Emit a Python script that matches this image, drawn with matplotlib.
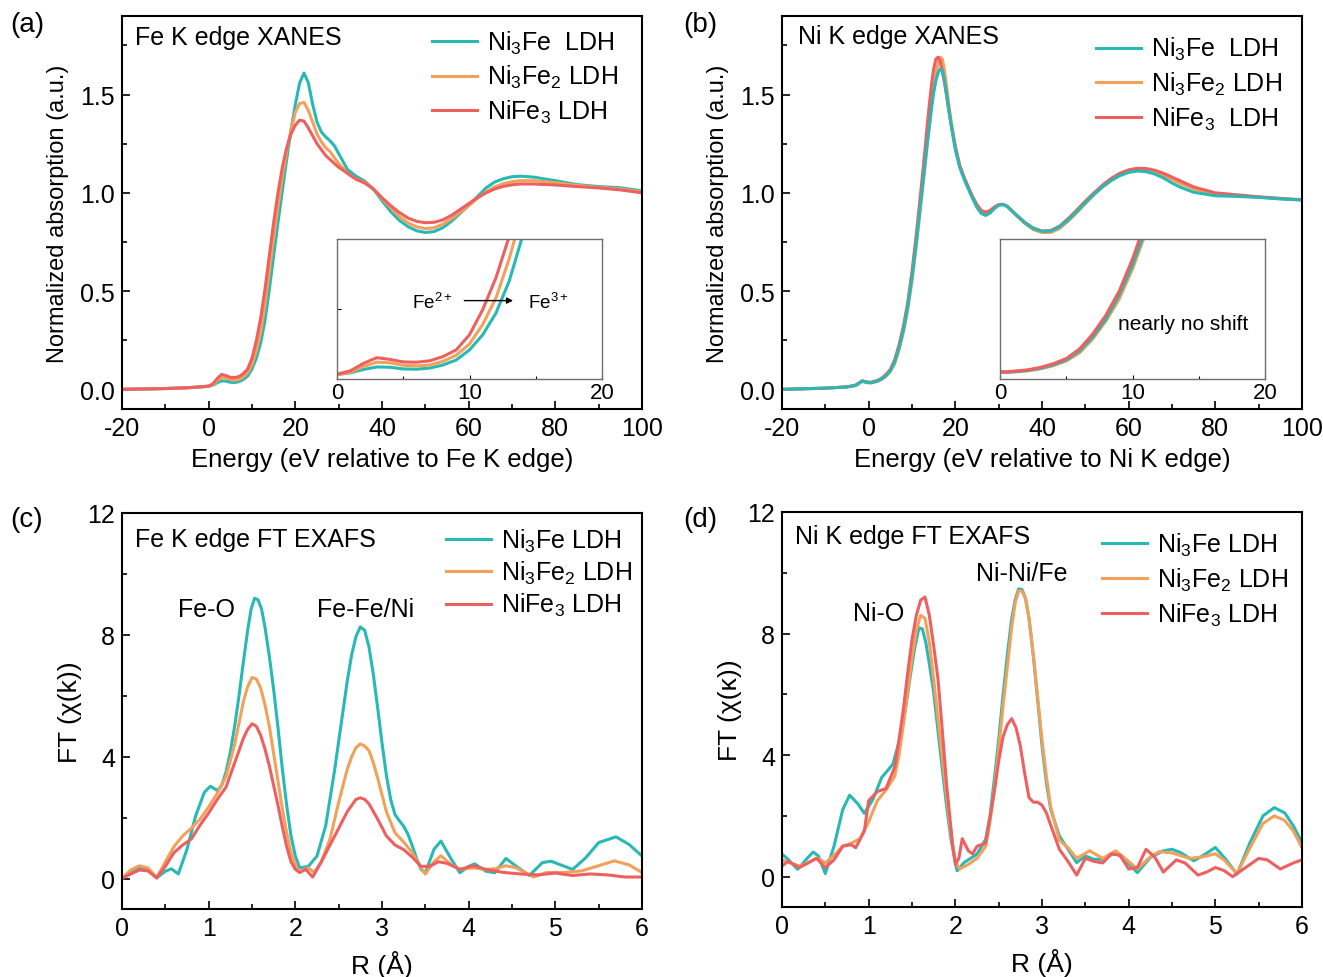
import numpy as np
import matplotlib
matplotlib.use('Agg')
import matplotlib.pyplot as plt
from matplotlib.ticker import MultipleLocator, FormatStrFormatter

plt.rcParams['font.family'] = ['Liberation Sans', 'DejaVu Sans']
plt.rcParams['mathtext.fontset'] = 'custom'
plt.rcParams['mathtext.rm'] = 'Liberation Sans'
plt.rcParams['mathtext.it'] = 'Liberation Sans:italic'
plt.rcParams['mathtext.bf'] = 'Liberation Sans:bold'
plt.rcParams['axes.unicode_minus'] = False

TEAL = '#27B9B5'
ORANGE = '#F2A05A'
RED = '#EE6060'

# ---- Fe K edge XANES (a) ----
e_fe = [-20, -15, -10, -5, -2, 0, 1, 2, 3, 4, 5, 6, 7, 8, 9, 10, 11, 12, 13, 14, 15, 16, 17, 18, 19,
        20, 21, 22, 23, 24, 25, 26, 27, 28, 29, 30, 32, 34, 36, 38, 40, 42, 44, 46, 48, 50, 52, 54,
        56, 58, 60, 62, 64, 66, 68, 70, 72, 75, 80, 85, 90, 95, 100]
fe_ni3fe = [0.000, 0.002, 0.004, 0.008, 0.012, 0.016, 0.022, 0.034, 0.043, 0.042, 0.036, 0.035, 0.039,
            0.050, 0.068, 0.104, 0.158, 0.236, 0.350, 0.51, 0.68, 0.85, 1.01, 1.17, 1.32, 1.45, 1.56,
            1.61, 1.56, 1.45, 1.36, 1.31, 1.285, 1.265, 1.24, 1.20, 1.12, 1.085, 1.06, 1.02, 0.96,
            0.905, 0.86, 0.828, 0.807, 0.798, 0.803, 0.822, 0.855, 0.895, 0.935, 0.98, 1.025, 1.055,
            1.072, 1.082, 1.085, 1.08, 1.062, 1.042, 1.032, 1.026, 1.01]
fe_ni3fe2 = [0.000, 0.002, 0.004, 0.008, 0.012, 0.015, 0.024, 0.045, 0.060, 0.058, 0.049, 0.047, 0.050,
             0.063, 0.085, 0.125, 0.195, 0.29, 0.43, 0.60, 0.77, 0.93, 1.08, 1.21, 1.32, 1.41, 1.455,
             1.46, 1.42, 1.36, 1.30, 1.26, 1.23, 1.21, 1.18, 1.15, 1.10, 1.07, 1.055, 1.02, 0.97,
             0.925, 0.88, 0.847, 0.827, 0.818, 0.822, 0.84, 0.868, 0.90, 0.935, 0.972, 1.005, 1.03,
             1.047, 1.057, 1.062, 1.062, 1.052, 1.038, 1.028, 1.02, 1.005]
fe_nife3 = [0.000, 0.002, 0.004, 0.008, 0.013, 0.017, 0.029, 0.056, 0.076, 0.070, 0.061, 0.060, 0.065,
            0.080, 0.104, 0.158, 0.248, 0.362, 0.51, 0.68, 0.85, 1.00, 1.13, 1.23, 1.30, 1.345, 1.37,
            1.365, 1.33, 1.29, 1.25, 1.22, 1.19, 1.17, 1.15, 1.13, 1.10, 1.07, 1.05, 1.02, 0.975,
            0.935, 0.90, 0.872, 0.855, 0.848, 0.85, 0.862, 0.885, 0.915, 0.945, 0.975, 1.00, 1.02,
            1.033, 1.041, 1.045, 1.045, 1.04, 1.032, 1.025, 1.015, 1.0]

# ---- Ni K edge XANES (b) ----
e_ni = [-20, -15, -10, -5, -3, -1.5, -0.5, 0.5, 2, 3, 4, 5, 6, 7, 8, 9, 10, 11, 12, 13, 13.5, 14,
        14.5, 15, 15.5, 16, 16.5, 17, 17.5, 18, 18.5, 19, 20, 21, 22, 23, 24, 25, 26, 27, 28, 29, 30,
        31, 32, 34, 36, 38, 40, 42, 44, 46, 48, 50, 52, 54, 56, 58, 60, 62, 64, 66, 68, 70, 72, 75,
        80, 85, 90, 95, 100]
ni_ni3fe = [0.0, 0.003, 0.006, 0.012, 0.02, 0.042, 0.036, 0.034,
            0.042, 0.053, 0.07, 0.095, 0.14, 0.21, 0.30, 0.42, 0.57, 0.75, 0.95, 1.15,
            1.25, 1.34, 1.43, 1.51, 1.57, 1.61, 1.63, 1.62, 1.57, 1.50, 1.42, 1.35,
            1.22, 1.13, 1.07, 1.02, 0.97, 0.925, 0.895, 0.885, 0.897, 0.92, 0.937, 0.94, 0.93,
            0.888, 0.848, 0.818, 0.804, 0.806, 0.826, 0.862, 0.904, 0.95, 0.993, 1.032, 1.064,
            1.088, 1.104, 1.111, 1.108, 1.096, 1.076, 1.05, 1.028,
            1.003, 0.985, 0.982, 0.977, 0.969, 0.964]
ni_ni3fe2 = [0.0, 0.003, 0.006, 0.012, 0.019, 0.040, 0.034, 0.032,
             0.040, 0.050, 0.066, 0.09, 0.13, 0.20, 0.29, 0.40, 0.55, 0.73, 0.93, 1.13,
             1.24, 1.34, 1.44, 1.53, 1.60, 1.66, 1.69, 1.68, 1.62, 1.54, 1.45, 1.37,
             1.24, 1.14, 1.08, 1.025, 0.975, 0.93, 0.898, 0.89, 0.9, 0.922, 0.938, 0.94, 0.93,
             0.886, 0.845, 0.813, 0.798, 0.798, 0.818, 0.855, 0.898, 0.945, 0.99, 1.03, 1.063,
             1.09, 1.108, 1.117, 1.116, 1.106, 1.09, 1.068, 1.047,
             1.02, 0.99, 0.985, 0.978, 0.97, 0.963]
ni_nife3 = [0.0, 0.003, 0.006, 0.013, 0.022, 0.044, 0.038, 0.036,
            0.045, 0.057, 0.076, 0.102, 0.15, 0.225, 0.32, 0.44, 0.60, 0.79, 1.00, 1.22,
            1.34, 1.45, 1.55, 1.63, 1.68, 1.69, 1.67, 1.62, 1.56, 1.49, 1.42, 1.35,
            1.23, 1.14, 1.08, 1.03, 0.98, 0.94, 0.91, 0.902, 0.91, 0.928, 0.94, 0.942, 0.932,
            0.89, 0.851, 0.821, 0.806, 0.808, 0.83, 0.868, 0.912, 0.958, 1.0, 1.04, 1.074,
            1.1, 1.117, 1.125, 1.124, 1.115, 1.1, 1.08, 1.06,
            1.03, 1.0, 0.99, 0.98, 0.972, 0.965]

# ---- Fe K edge FT EXAFS (c) ----
r_c1 = [0, 0.1, 0.2, 0.3, 0.4, 0.5, 0.57, 0.65, 0.75, 0.85, 0.95, 1.02, 1.1, 1.15, 1.2, 1.25, 1.3, 1.35,
        1.4, 1.45, 1.49, 1.53, 1.57, 1.61, 1.65, 1.7, 1.75, 1.8, 1.85, 1.9, 1.95, 2.0, 2.05, 2.15, 2.25,
        2.35, 2.45, 2.5, 2.55, 2.6, 2.65, 2.7, 2.75, 2.8, 2.85, 2.9, 2.95, 3.0, 3.05, 3.1, 3.15, 3.2,
        3.25, 3.3, 3.35, 3.4, 3.45, 3.5, 3.6, 3.68, 3.8, 3.9, 4.0, 4.07, 4.2, 4.3, 4.43, 4.55, 4.7,
        4.85, 4.95, 5.05, 5.2, 5.35, 5.5, 5.7, 5.85, 6.0]
ft_c1 = [0.0, 0.24, 0.35, 0.3, 0.02, 0.24, 0.32, 0.15, 0.96, 2.06, 2.83, 3.03, 2.89, 3.05, 3.5, 4.15,
         5.0, 6.0, 7.1, 8.15, 8.85, 9.2, 9.15, 8.85, 8.25, 7.3, 6.2, 4.95, 3.6, 2.4, 1.4, 0.74, 0.35,
         0.4, 0.74, 1.73, 3.5, 4.5, 5.5, 6.5, 7.35, 7.95, 8.26, 8.15, 7.6, 6.7, 5.6, 4.45, 3.4, 2.6,
         2.1, 1.9, 1.72, 1.45, 1.07, 0.65, 0.3, 0.19, 0.96, 1.23, 0.63, 0.19, 0.4, 0.48, 0.24, 0.19,
         0.66, 0.4, 0.1, 0.52, 0.57, 0.46, 0.3, 0.68, 1.18, 1.37, 1.12, 0.74]
r_c2 = [0, 0.1, 0.2, 0.3, 0.4, 0.5, 0.6, 0.7, 0.8, 0.9, 1.0, 1.1, 1.2, 1.3, 1.35, 1.4, 1.45, 1.5, 1.55,
        1.6, 1.65, 1.7, 1.75, 1.8, 1.85, 1.9, 1.95, 2.0, 2.05, 2.1, 2.15, 2.22, 2.3, 2.4, 2.5, 2.6,
        2.65, 2.7, 2.75, 2.8, 2.85, 2.9, 2.95, 3.05, 3.15, 3.25, 3.35, 3.45, 3.5, 3.6, 3.68, 3.8, 3.9,
        4.05, 4.2, 4.3, 4.43, 4.55, 4.75, 4.9, 5.1, 5.3, 5.5, 5.68, 5.85, 6.0]
ft_c2 = [0.0, 0.28, 0.42, 0.35, 0.03, 0.55, 1.05, 1.4, 1.65, 1.95, 2.35, 2.8, 3.35, 4.4, 5.1, 5.8, 6.3,
         6.6, 6.55, 6.25, 5.7, 5.0, 4.1, 3.2, 2.3, 1.5, 0.85, 0.45, 0.2, 0.3, 0.35, 0.2, 0.55, 1.3,
         2.5, 3.6, 4.0, 4.3, 4.42, 4.35, 4.2, 3.8, 3.3, 2.2, 1.5, 1.2, 0.85, 0.35, 0.15, 0.55, 0.75,
         0.45, 0.3, 0.35, 0.3, 0.32, 0.42, 0.35, 0.05, 0.2, 0.2, 0.25, 0.42, 0.58, 0.45, 0.2]
r_c3 = [0, 0.1, 0.2, 0.3, 0.4, 0.5, 0.6, 0.7, 0.8, 0.9, 1.0, 1.1, 1.2, 1.3, 1.35, 1.4, 1.45, 1.5, 1.55,
        1.6, 1.65, 1.7, 1.75, 1.8, 1.85, 1.9, 1.95, 2.0, 2.05, 2.12, 2.2, 2.3, 2.4, 2.5, 2.6, 2.7,
        2.75, 2.8, 2.85, 2.95, 3.05, 3.15, 3.25, 3.35, 3.45, 3.55, 3.65, 3.75, 3.9, 4.05, 4.2, 4.4,
        4.6, 4.8, 5.0, 5.2, 5.4, 5.6, 5.8, 6.0]
ft_c3 = [0.0, 0.15, 0.28, 0.25, 0.02, 0.4, 0.85, 1.1, 1.3, 1.75, 2.15, 2.6, 3.0, 3.8, 4.2, 4.6, 4.9,
         5.08, 5.0, 4.7, 4.25, 3.7, 3.05, 2.4, 1.7, 1.05, 0.55, 0.3, 0.2, 0.3, 0.05, 0.55, 1.1, 1.65,
         2.2, 2.6, 2.65, 2.6, 2.45, 1.95, 1.4, 1.1, 0.95, 0.7, 0.4, 0.4, 0.55, 0.5, 0.3, 0.42, 0.3,
         0.2, 0.15, 0.12, 0.18, 0.1, 0.15, 0.12, 0.05, 0.05]

# ---- Ni K edge FT EXAFS (d) ----
r_d1 = [0, 0.07, 0.18, 0.3, 0.36, 0.42, 0.5, 0.6, 0.7, 0.78, 0.88, 0.95, 1.05, 1.15, 1.28, 1.38, 1.43,
        1.48, 1.53, 1.58, 1.62, 1.66, 1.7, 1.75, 1.8, 1.85, 1.9, 1.95, 2.02, 2.1, 2.25, 2.35, 2.4,
        2.45, 2.5, 2.55, 2.6, 2.65, 2.69, 2.73, 2.77, 2.81, 2.85, 2.9, 2.95, 3.0, 3.05, 3.1, 3.2, 3.3,
        3.4, 3.5, 3.6, 3.7, 3.85, 3.95, 4.1, 4.25, 4.4, 4.5, 4.6, 4.75, 4.85, 5.0, 5.12, 5.25, 5.4,
        5.55, 5.68, 5.8, 5.9, 6.0]
ft_d1 = [0.74, 0.57, 0.24, 0.63, 0.81, 0.68, 0.1, 1.0, 2.2, 2.68, 2.38, 2.08, 2.55, 3.26, 3.7, 4.75,
         5.6, 6.6, 7.5, 8.19, 8.15, 7.7, 7.0, 6.07, 4.8, 3.54, 2.3, 1.23, 0.19, 0.46, 0.74, 1.23, 2.0,
         3.2, 4.5, 5.96, 7.3, 8.48, 9.1, 9.47, 9.45, 9.15, 8.5, 7.27, 5.8, 4.31, 3.1, 2.22, 1.34, 0.9,
         0.46, 0.68, 0.57, 0.57, 0.79, 0.57, 0.13, 0.63, 0.85, 0.9, 0.79, 0.52, 0.68, 0.96, 0.57, 0.08,
         1.12, 2.0, 2.27, 2.1, 1.67, 1.12]
r_d2 = [0, 0.1, 0.2, 0.3, 0.4, 0.5, 0.6, 0.7, 0.8, 0.9, 1.0, 1.1, 1.2, 1.3, 1.35, 1.4, 1.45, 1.5, 1.55,
        1.6, 1.65, 1.7, 1.75, 1.8, 1.85, 1.9, 1.95, 2.0, 2.05, 2.15, 2.25, 2.35, 2.4, 2.45, 2.5, 2.55,
        2.6, 2.65, 2.69, 2.73, 2.77, 2.81, 2.85, 2.9, 2.95, 3.0, 3.05, 3.1, 3.2, 3.3, 3.4, 3.55, 3.7,
        3.85, 4.0, 4.1, 4.25, 4.35, 4.5, 4.7, 4.85, 5.0, 5.1, 5.25, 5.4, 5.55, 5.68, 5.8, 5.9, 6.0]
ft_d2 = [0.55, 0.45, 0.35, 0.45, 0.62, 0.45, 0.7, 1.0, 1.1, 1.25, 1.8, 2.5, 2.85, 3.3, 4.0, 5.0, 6.1,
         7.2, 8.1, 8.6, 8.5, 7.7, 6.5, 5.2, 3.9, 2.6, 1.4, 0.5, 0.25, 0.4, 0.6, 1.0, 1.8, 2.9, 4.2, 5.6,
         6.9, 8.2, 9.0, 9.4, 9.4, 9.15, 8.5, 7.3, 5.9, 4.5, 3.3, 2.3, 1.2, 0.95, 0.6, 0.85, 0.6, 0.85,
         0.5, 0.25, 0.65, 0.82, 0.78, 0.6, 0.65, 0.75, 0.55, 0.1, 0.95, 1.75, 2.0, 1.85, 1.5, 0.95]
r_d3 = [0, 0.07, 0.2, 0.3, 0.4, 0.5, 0.6, 0.7, 0.8, 0.85, 0.95, 1.0, 1.1, 1.2, 1.3, 1.35, 1.4, 1.45,
        1.5, 1.55, 1.6, 1.65, 1.7, 1.75, 1.8, 1.85, 1.9, 1.97, 2.0, 2.04, 2.08, 2.15, 2.2, 2.25, 2.35,
        2.45, 2.5, 2.55, 2.6, 2.65, 2.7, 2.75, 2.8, 2.85, 2.9, 2.95, 3.0, 3.05, 3.1, 3.2, 3.3, 3.4,
        3.5, 3.6, 3.7, 3.8, 3.9, 4.0, 4.1, 4.2, 4.3, 4.4, 4.55, 4.65, 4.8, 4.9, 5.0, 5.1, 5.2, 5.3,
        5.5, 5.6, 5.75, 5.9, 6.0]
ft_d3 = [0.35, 0.5, 0.3, 0.45, 0.6, 0.3, 0.55, 1.0, 1.05, 0.95, 1.5, 2.5, 2.8, 2.9, 3.6, 4.5, 5.5,
         6.7, 7.8, 8.6, 9.1, 9.2, 8.6, 7.6, 6.5, 4.8, 3.0, 1.0, 0.4, 0.6, 1.25, 0.85, 0.75, 1.0, 1.1,
         2.8, 3.8, 4.6, 5.0, 5.2, 4.9, 4.3, 3.4, 2.6, 2.45, 2.45, 2.35, 2.1, 1.7, 0.9, 0.5, 0.05, 0.6,
         0.5, 0.45, 0.75, 0.7, 0.25, 0.3, 0.9, 0.65, 0.15, 0.55, 0.45, 0.05, 0.15, 0.3, 0.2, 0.0, 0.2,
         0.6, 0.55, 0.25, 0.45, 0.55]

W, H = 1323, 978
FS = 18      # ticks, legends, titles
LBL = 18.5   # x labels


def px_box(x0, y0, x1, y1):
    return [x0 / W, 1 - y1 / H, (x1 - x0) / W, (y1 - y0) / H]


def style_axes(ax, major_x, minor_x, major_y, minor_y):
    ax.xaxis.set_major_locator(MultipleLocator(major_x))
    ax.xaxis.set_minor_locator(MultipleLocator(minor_x))
    ax.yaxis.set_major_locator(MultipleLocator(major_y))
    ax.yaxis.set_minor_locator(MultipleLocator(minor_y))
    ax.tick_params(which='both', direction='in', top=False, right=False, labelsize=FS, width=1.2)
    ax.tick_params(which='major', length=6, pad=5)
    ax.tick_params(which='minor', length=3.5)
    for s in ax.spines.values():
        s.set_linewidth(1.5)


def style_inset(ax, ytop):
    ax.set_xlim(0, 20)
    ax.set_ylim(0, ytop)
    ax.set_xticks([0, 10, 20])
    ax.set_xticks([5, 15], minor=True)
    ax.tick_params(which='both', direction='in', labelsize=16, pad=2, width=0.8)
    ax.tick_params(which='major', length=3)
    ax.tick_params(which='minor', length=2)
    for s in ax.spines.values():
        s.set_linewidth(1.0)
        s.set_color('#6e6e6e')


def add_legend(ax, anchor, spacing, handles=None, labels=None):
    kw = dict(loc='upper left', bbox_to_anchor=anchor, frameon=False, fontsize=FS,
              handlelength=1.8, handletextpad=0.4, labelspacing=spacing, borderpad=0,
              borderaxespad=0)
    if handles is None:
        ax.legend(**kw)
    else:
        ax.legend(handles, labels, **kw)


fig = plt.figure(figsize=(W / 100, H / 100), dpi=100)
lw = 2.2

# (a)
ax = fig.add_axes(px_box(122, 17, 642, 410))
ax.plot(e_fe, fe_ni3fe, color=TEAL, lw=lw, label='Ni$_3$Fe  LDH')
ax.plot(e_fe, fe_ni3fe2, color=ORANGE, lw=lw, label='Ni$_3$Fe$_2$ LDH')
ax.plot(e_fe, fe_nife3, color=RED, lw=lw, label='NiFe$_3$ LDH')
ax.set_xlim(-20, 100)
ax.set_ylim(-0.1, 1.9)
style_axes(ax, 20, 10, 0.5, 0.25)
ax.yaxis.set_major_formatter(FormatStrFormatter('%.1f'))
ax.set_xlabel('Energy (eV relative to Fe K edge)', fontsize=LBL, labelpad=5)
ax.set_ylabel('Normalized absorption (a.u.)', fontsize=17, labelpad=8)
ax.text(0.025, 0.947, 'Fe K edge XANES', transform=ax.transAxes, fontsize=FS, va='center')
add_legend(ax, (0.596, 0.968), 0.3)

ins = fig.add_axes(px_box(337, 240, 602, 380))
ins.plot(e_fe, fe_ni3fe, color=TEAL, lw=lw)
ins.plot(e_fe, fe_ni3fe2, color=ORANGE, lw=lw)
ins.plot(e_fe, fe_nife3, color=RED, lw=lw)
style_inset(ins, 0.5)
ins.set_yticks([0.25])
ins.set_yticklabels([])
ins.text(8.75, 0.275, 'Fe$^{2+}$', fontsize=13.5, ha='right', va='center')
ins.text(14.4, 0.275, 'Fe$^{3+}$', fontsize=13.5, ha='left', va='center')
ins.annotate('', xy=(13.5, 0.28), xytext=(9.4, 0.28),
             arrowprops=dict(arrowstyle='-|>', color='black', lw=1.0, mutation_scale=9))

# (b)
ax = fig.add_axes(px_box(782, 17, 1302, 410))
l2, = ax.plot(e_ni, ni_ni3fe2, color=ORANGE, lw=lw)
l3, = ax.plot(e_ni, ni_nife3, color=RED, lw=lw)
l1, = ax.plot(e_ni, ni_ni3fe, color=TEAL, lw=lw)
ax.set_xlim(-20, 100)
ax.set_ylim(-0.1, 1.9)
style_axes(ax, 20, 10, 0.5, 0.25)
ax.yaxis.set_major_formatter(FormatStrFormatter('%.1f'))
ax.set_xlabel('Energy (eV relative to Ni K edge)', fontsize=LBL, labelpad=5)
ax.set_ylabel('Normalized absorption (a.u.)', fontsize=17, labelpad=8)
ax.text(0.031, 0.949, 'Ni K edge XANES', transform=ax.transAxes, fontsize=FS, va='center')
add_legend(ax, (0.604, 0.951), 0.3, [l1, l2, l3],
           ['Ni$_3$Fe  LDH', 'Ni$_3$Fe$_2$ LDH', 'NiFe$_3$  LDH'])

ins = fig.add_axes(px_box(1000, 240, 1265, 380))
ins.plot(e_ni, ni_ni3fe2, color=ORANGE, lw=lw)
ins.plot(e_ni, ni_ni3fe, color=TEAL, lw=lw)
ins.plot(e_ni, ni_nife3, color=RED, lw=lw)
style_inset(ins, 0.7)
ins.set_yticks([])
ins.text(13.8, 0.275, 'nearly no shift', fontsize=15, ha='center', va='center')

# (c)
ax = fig.add_axes(px_box(122, 514, 642, 910))
ax.plot(r_c1, ft_c1, color=TEAL, lw=lw, label='Ni$_3$Fe LDH')
ax.plot(r_c2, ft_c2, color=ORANGE, lw=lw, label='Ni$_3$Fe$_2$ LDH')
ax.plot(r_c3, ft_c3, color=RED, lw=lw, label='NiFe$_3$ LDH')
ax.set_xlim(0, 6)
ax.set_ylim(-1, 12)
style_axes(ax, 1, 0.5, 4, 2)
ax.set_xlabel('R (Å)', fontsize=19, labelpad=7)
ax.set_ylabel('FT (χ(k))', fontsize=19, labelpad=4)
ax.text(0.025, 0.934, 'Fe K edge FT EXAFS', transform=ax.transAxes, fontsize=FS, va='center')
ax.text(0.98, 8.85, 'Fe-O', fontsize=FS, ha='center', va='center')
ax.text(2.81, 8.85, 'Fe-Fe/Ni', fontsize=FS, ha='center', va='center')
add_legend(ax, (0.623, 0.965), 0.2)

# (d)
ax = fig.add_axes(px_box(782, 513, 1302, 908))
ax.plot(r_d1, ft_d1, color=TEAL, lw=lw, label='Ni$_3$Fe LDH')
ax.plot(r_d2, ft_d2, color=ORANGE, lw=lw, label='Ni$_3$Fe$_2$ LDH')
ax.plot(r_d3, ft_d3, color=RED, lw=lw, label='NiFe$_3$ LDH')
ax.set_xlim(0, 6)
ax.set_ylim(-1, 12)
style_axes(ax, 1, 0.5, 4, 2)
ax.set_xlabel('R (Å)', fontsize=19, labelpad=7)
ax.set_ylabel('FT (χ(κ))', fontsize=19, labelpad=4)
ax.text(0.025, 0.939, 'Ni K edge FT EXAFS', transform=ax.transAxes, fontsize=FS, va='center')
ax.text(2.77, 10.0, 'Ni-Ni/Fe', fontsize=FS, ha='center', va='center')
ax.text(1.11, 8.68, 'Ni-O', fontsize=FS, ha='center', va='center')
add_legend(ax, (0.615, 0.952), 0.3)

# panel letters
for lab, x, y in [('(a)', 27, 25), ('(b)', 700, 25), ('(c)', 27, 520), ('(d)', 700, 520)]:
    fig.text(x / W, 1 - y / H, lab, fontsize=20, ha='center', va='center')

fig.savefig('out.png', dpi=100)
